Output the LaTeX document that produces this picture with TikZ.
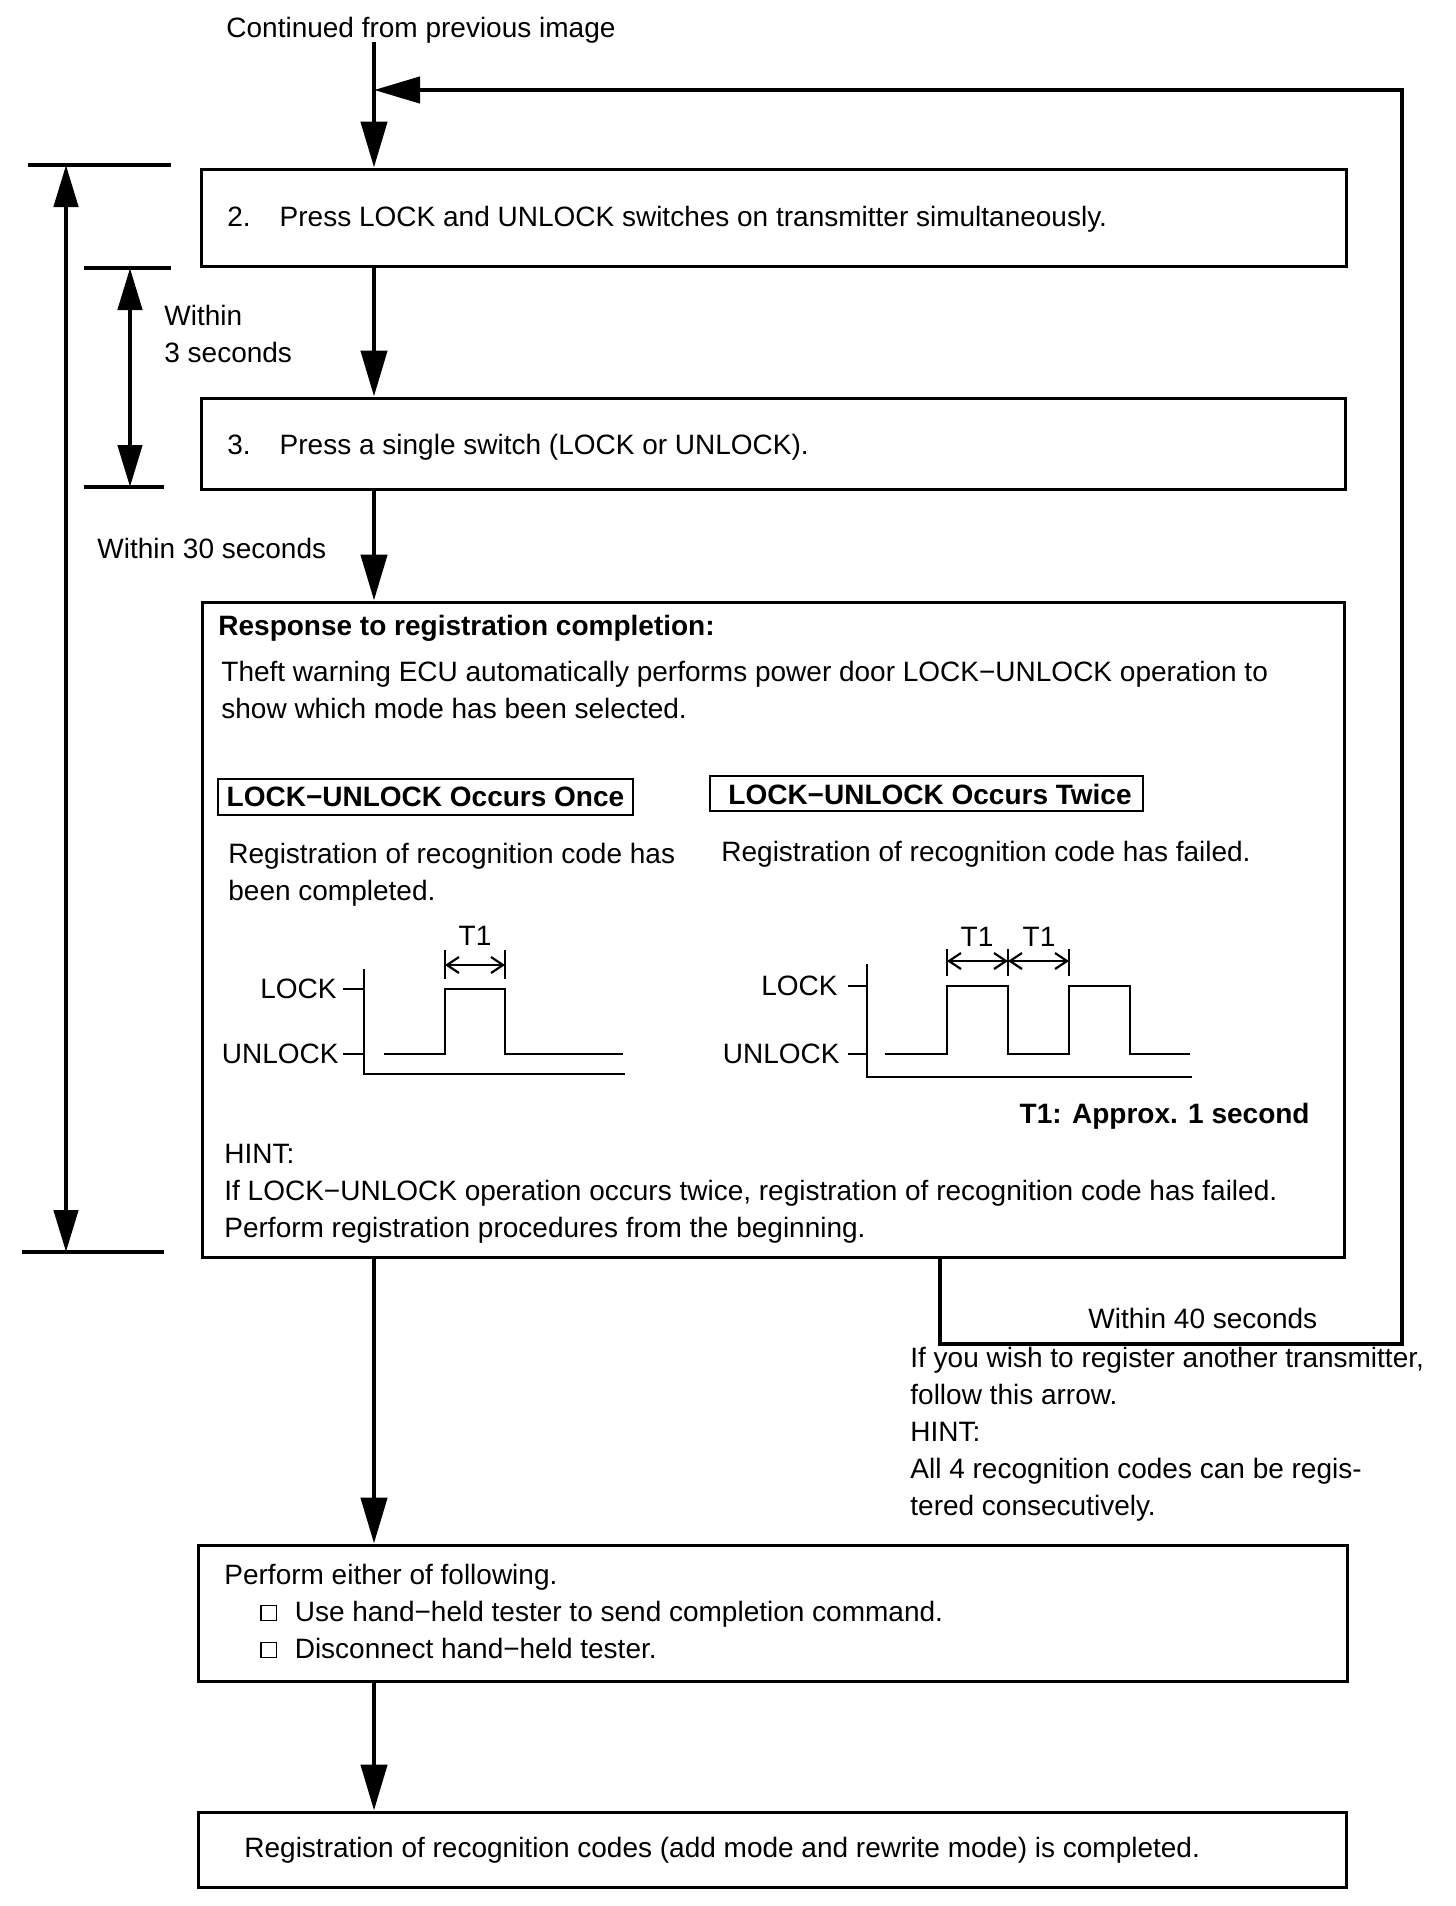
\documentclass[tikz,border=0pt]{standalone}
\usepackage{fontspec}
\setmainfont{Liberation Sans}
\usetikzlibrary{arrows.meta,positioning,fit}
\newcommand{\chkbox}{{\setlength{\fboxsep}{0pt}\setlength{\fboxrule}{0.6pt}\raisebox{0.5pt}{\fbox{\rule{0pt}{7pt}\hspace{7pt}}}}}
\tikzset{
  box/.style={draw,line width=1.5pt,inner sep=0pt},
  frm/.style={draw,line width=1.1pt,inner sep=0pt},
  txt/.style={inner sep=0pt,anchor=base west,align=left,font=\fontsize{14}{18.5}\selectfont},
  lbl/.style={inner sep=0pt,font=\fontsize{14}{17}\selectfont},
  flow/.style={line width=2.3pt,-{Triangle[length=23pt,width=13pt]}},
  loopline/.style={line width=2.2pt,line join=miter,-{Triangle[length=23pt,width=13pt]}},
  dimline/.style={line width=2.3pt,{Triangle[length=21pt,width=12pt]}-{Triangle[length=21pt,width=12pt]}},
  tick/.style={line width=1.7pt},
  sig/.style={line width=1.2pt},
  tarrow/.style={line width=1.1pt,{Straight Barb[length=6pt,width=8pt]}-{Straight Barb[length=6pt,width=8pt]}}
}
\begin{document}
\begin{tikzpicture}[x=0.5pt,y=-0.5pt]
\useasboundingbox (0,0) rectangle (1456,1906);

% boxes
\node[box,fit={(201,169)(1346,266)}] (s2) {};
\node[box,fit={(201,398)(1345,489)}] (s3) {};
\node[box,fit={(202,602)(1344,1257)}] (resp) {};
\node[box,fit={(198,1545)(1347,1681)}] (s4) {};
\node[box,fit={(198,1812)(1346,1887)}] (s5) {};

% texts in boxes (base = last line)
\node[txt] (top) at (226,37) {Continued from previous image};
\node[txt] (s2t) at (227,226) {2.\hspace{14.5pt}Press LOCK and UNLOCK switches on transmitter simultaneously.};
\node[txt] (s3t) at (227,454) {3.\hspace{14.5pt}Press a single switch (LOCK or UNLOCK).};
\node[txt] (respt) at (218,635) {\textbf{Response to registration completion:}};
\node[txt] (theft) at (221,718) {Theft warning ECU automatically performs power door LOCK−UNLOCK operation to\\show which mode has been selected.};

\node[frm,fit={(218,779)(633,815)}] (oncebox) {};
\node[lbl] (once) at (oncebox.center) {\textbf{LOCK−UNLOCK Occurs Once}};
\node[frm,fit={(710,776)(1143,811)}] (twicebox) {};
\node[lbl] (twice) at (930,794) {\textbf{LOCK−UNLOCK Occurs Twice}};

\node[txt] (done) at (228,900) {Registration of recognition code has\\been completed.};
\node[txt] (failed) at (721,861) {Registration of recognition code has failed.};

% timing, once
\draw[sig] (364,969) -- (364,1074) -- (625,1074);
\draw[sig] (343,989) -- (364,989);
\draw[sig] (343,1054) -- (364,1054);
\draw[sig] (384,1054) -- (445,1054) -- (445,989) -- (505,989) -- (505,1054) -- (623,1054);
\draw[sig] (445,950) -- (445,979);
\draw[sig] (505,950) -- (505,979);
\draw[tarrow] (445,965) -- (505,965);
\node[lbl,anchor=east] (lk1) at (337,989) {LOCK};
\node[lbl,anchor=east] (ul1) at (339,1054) {UNLOCK};
\node[lbl] (ta) at (475,936) {T1};

% timing, twice
\draw[sig] (867,964) -- (867,1077) -- (1192,1077);
\draw[sig] (848,986) -- (867,986);
\draw[sig] (848,1054) -- (867,1054);
\draw[sig] (885,1054) -- (947,1054) -- (947,986) -- (1008,986) -- (1008,1054) -- (1069,1054) -- (1069,986) -- (1130,986) -- (1130,1054) -- (1190,1054);
\draw[sig] (947,949) -- (947,976);
\draw[sig] (1008,949) -- (1008,976);
\draw[sig] (1069,949) -- (1069,976);
\draw[tarrow] (947,961) -- (1008,961);
\draw[tarrow] (1008,961) -- (1069,961);
\node[lbl,anchor=east] (lk2) at (838,986) {LOCK};
\node[lbl,anchor=east] (ul2) at (840,1054) {UNLOCK};
\node[lbl] (tb) at (977,937) {T1};
\node[lbl] (tc) at (1039,937) {T1};

\node[txt,anchor=base east] (approx) at (1310,1123) {\textbf{T1: Approx. 1 second}};
\node[txt] (hint) at (224,1237) {HINT:\\If LOCK−UNLOCK operation occurs twice, registration of recognition code has failed.\\Perform registration procedures from the beginning.};

\node[txt] (s4t) at (224,1658) {Perform either of following.\\\hspace{18pt}\chkbox\hspace{9pt}Use hand−held tester to send completion command.\\\hspace{18pt}\chkbox\hspace{9pt}Disconnect hand−held tester.};
\node[txt] (s5t) at (244,1857) {Registration of recognition codes (add mode and rewrite mode) is completed.};

% side texts
\node[txt] (w3) at (164,362) {\fontsize{14}{19}\selectfont Within\\3 seconds};
\node[txt] (w30) at (97,558) {Within 30 seconds};
\node[txt] (w40) at (1088,1328) {Within 40 seconds};
\node[txt] (note) at (910,1515) {\fontsize{14}{17.5}\selectfont If you wish to register another transmitter,\\follow this arrow.\\HINT:\\All 4 recognition codes can be regis-\\tered consecutively.};

% main flow
\coordinate (start) at (374,42);
\draw[flow] (start) -- (s2.north -| start);
\draw[flow] (s2.south -| start) -- (s3.north -| start);
\draw[flow] (s3.south -| start) -- (resp.north -| start);
\draw[flow] (resp.south -| start) -- (s4.north -| start);
\draw[flow] (s4.south -| start) -- (s5.north -| start);

% loop back
\coordinate (lb) at (940,1344);
\coordinate (rt) at (1402,90);
\coordinate (join) at (374,90);
\draw[loopline] (resp.south -| lb) -- (lb) -| (rt) -- (join);

% time spans
\coordinate (oa) at (28,165);
\coordinate (ob) at (22,1252);
\coordinate (ia) at (84,268);
\coordinate (ib) at (84,487);
\draw[tick] (oa) -- (171,165);
\draw[tick] (ob) -- (164,1252);
\draw[tick] (ia) -- (171,268);
\draw[tick] (ib) -- (164,487);
\draw[dimline] (66,165) -- (66,1252);
\draw[dimline] (130,268) -- (130,487);
\end{tikzpicture}
\end{document}
